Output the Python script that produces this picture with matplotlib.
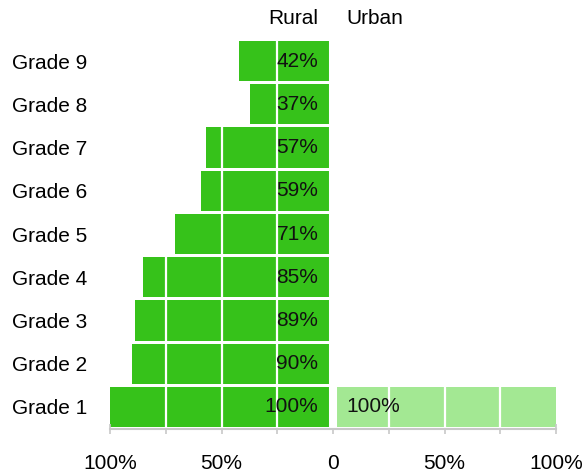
#!/usr/bin/env python3
"""Rural vs urban share by grade, back-to-back bars."""
import matplotlib
matplotlib.use("Agg")
import matplotlib.pyplot as plt
import numpy as np

GRADES = ["Grade 1", "Grade 2", "Grade 3", "Grade 4", "Grade 5",
          "Grade 6", "Grade 7", "Grade 8", "Grade 9"]
RURAL = [100, 90, 89, 85, 71, 59, 57, 37, 42]
URBAN = [100, 0, 0, 0, 0, 0, 0, 0, 0]
TICKS = [-100, -75, -50, -25, 0, 25, 50, 75, 100]
TICK_LABELS = ["100%", "", "50%", "", "0", "", "50%", "", "100%"]

RURAL_COLOR = "#36c21a"
URBAN_COLOR = "#a3e893"
AXIS_GRAY = "#c8c8c8"


def main() -> int:
    plt.rcParams["font.family"] = ["Liberation Sans", "DejaVu Sans"]
    fig = plt.figure(figsize=(5.84, 4.75), dpi=100)
    ax = fig.add_axes([110 / 584, 1 - 428.6 / 475, 446 / 584, 389.2 / 475])

    y = np.arange(len(GRADES))
    rural = np.array(RURAL)
    urban = np.array(URBAN)
    ax.barh(y, -rural, height=0.93, color=RURAL_COLOR, zorder=1)
    ax.barh(y, urban, height=0.93, color=URBAN_COLOR, zorder=1)

    # white grid over the bars, and a gap at zero
    for t in [-75, -50, -25, 25, 50, 75]:
        ax.axvline(t, color="white", lw=1.6, zorder=2)
    ax.axvline(0, color="white", lw=5.8, zorder=2)

    fs = 15
    for yi, r, u in zip(y, rural, urban):
        if r:
            ax.annotate(f"{r}%", xy=(0, yi), xytext=(-10.5, 0), textcoords="offset points",
                        ha="right", va="center", fontsize=fs, color="#111111", zorder=3)
        if u:
            ax.annotate(f"{u}%", xy=(0, yi), xytext=(9.4, 0), textcoords="offset points",
                        ha="left", va="center", fontsize=fs, color="#111111", zorder=3)

    trans = ax.get_xaxis_transform()
    ax.annotate("Rural", xy=(0, 1), xycoords=trans, xytext=(-10.5, 15.4),
                textcoords="offset points", ha="right", va="center", fontsize=fs)
    ax.annotate("Urban", xy=(0, 1), xycoords=trans, xytext=(9.4, 15.4),
                textcoords="offset points", ha="left", va="center", fontsize=fs)

    ax.set_yticks(y)
    ax.set_yticklabels(GRADES, fontsize=fs, ha="left")
    ax.tick_params(axis="y", length=0, pad=(110 - 12) * 72 / 100)

    ax.set_xlim(-100, 100)
    ax.set_ylim(-0.5, len(GRADES) - 0.5)
    ax.set_xticks(TICKS)
    ax.set_xticklabels(TICK_LABELS, fontsize=fs)
    ax.tick_params(axis="x", direction="inout", length=7, width=1.2,
                   color=AXIS_GRAY, pad=15)

    for side in ["top", "left", "right"]:
        ax.spines[side].set_visible(False)
    ax.spines["bottom"].set_color(AXIS_GRAY)
    ax.spines["bottom"].set_linewidth(1.5)

    fig.savefig("out.png", dpi=100)
    return 0


if __name__ == "__main__":
    raise SystemExit(main())
